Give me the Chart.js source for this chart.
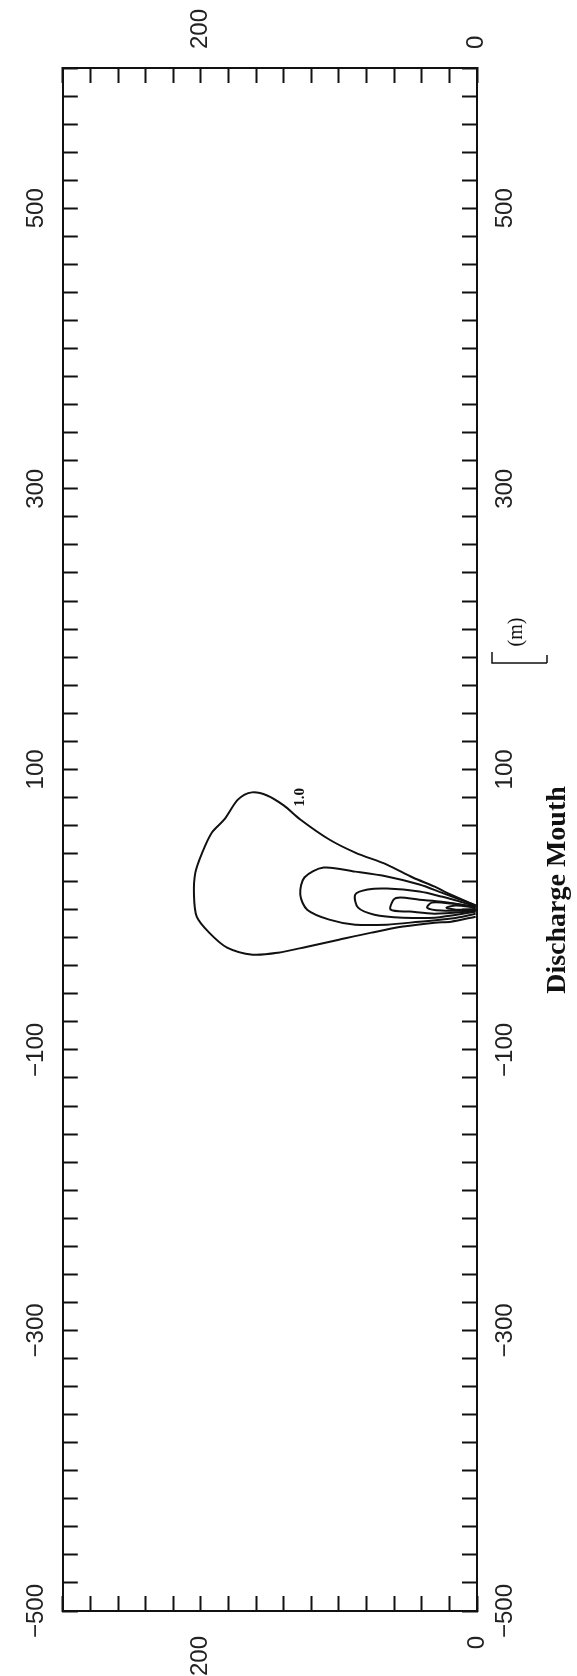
<!DOCTYPE html>
<html>
<head>
<meta charset="utf-8">
<script src="https://cdn.jsdelivr.net/npm/chart.js@4"></script>
<style>
  html, body { margin: 0; padding: 0; background: #fff; }
  #wrap { width: 577px; height: 1676px; position: relative; }
</style>
</head>
<body>
<div id="wrap"><canvas id="plumeChart"></canvas></div>
<script>
// lateral distance from the bank (m) runs across the page, 0 at the right edge
const lateralRange = [0, 300];
const lateralLabels = [0, 200];
// distance along the bank (m) runs up the page
const alongRange = [-500, 600];
const alongLabels = [-500, -300, -100, 100, 300, 500];

// contour lines, [lateral, along] pairs, all leaving from the discharge mouth
const contour10 = [
  [1, 3], [23.6, 12.9], [30.6, 16.4], [46.5, 22.9], [65.3, 32.1], [88.2, 40.7],
  [107, 50], [128, 64.3], [140, 74.3], [152, 81.4], [163, 83.6], [173, 78.6],
  [183, 64.3], [192, 55], [199, 40.7], [204, 26.4], [205, 10.7], [203, -5],
  [194, -16.4], [181, -27.1], [162.5, -32.1], [144, -30.7], [123, -26.4],
  [100, -21.4], [76.4, -16.4], [53.5, -12.1], [30.6, -9.3], [18.75, -8.6], [1, -5]
];
const contour2 = [
  [1, 3], [25.7, 12.1], [41.7, 17.9], [65.3, 23.6], [88.2, 27.1], [111, 30],
  [125, 22.9], [128, 10.7], [123, 0], [107, -7.1], [88.2, -10.7], [65.3, -10.7],
  [41.7, -8.6], [18.75, -6.4], [1, -3]
];
const contour3 = [
  [1, 2.5], [25.7, 9.3], [41.7, 12.9], [65.3, 15], [79.2, 14.3], [88.2, 10.7],
  [86.1, 1.4], [74.3, -3.6], [53.5, -5.7], [30.6, -5.7], [1, -1.5]
];
const contour4 = [
  [1, 2], [25.7, 5.7], [41.7, 7.1], [55.6, 8.6], [60.4, 7.1], [62.5, 0],
  [48.6, -1.4], [30.6, -2.9], [1, -1]
];
const contour5 = [
  [1, 1.8], [18.75, 4.3], [32.6, 5], [36.1, 1.4], [25.7, -0.7], [1, -0.5]
];
const contour6 = [
  [1, 1.4], [15.3, 2.9], [22.2, 1.4], [15.3, 0], [1, 0.2]
];
const contourSets = [contour10, contour2, contour3, contour4, contour5, contour6];

// label of the outer contour and the mouth marker, in data units
const contourLabel = { text: "1.0", lateral: 128, along: 80 };
const mouthLabel = { text: "Discharge Mouth", along: 14 };
const unitLabel = "(m)";

function toPoints(pairs) {
  return pairs.map(([x, y]) => ({ x: x, y: y }));
}

function minus(v) {
  return v < 0 ? "\u2212" + Math.abs(v) : String(v);
}

const tickFont = { family: "'Liberation Sans', Arial, sans-serif", size: 24 };

function alongAxis(position, padding) {
  return {
    type: "linear",
    position: position,
    min: alongRange[0],
    max: alongRange[1],
    grid: {
      drawOnChartArea: false,
      drawTicks: true,
      tickLength: -15,
      tickWidth: 2,
      tickColor: "#111",
    },
    border: { display: true, color: "#111", width: 2 },
    ticks: {
      stepSize: 20,
      autoSkip: false,
      minRotation: 90,
      maxRotation: 90,
      crossAlign: "center",
      padding: padding,
      color: "#222",
      font: tickFont,
      callback: (v) => (alongLabels.includes(v) ? minus(v) : ""),
    },
    afterFit: (scale) => {
      scale.width = position === "left" ? 45 : 100;
    },
  };
}

function lateralAxis(position, padding, offset) {
  return {
    type: "linear",
    position: position,
    reverse: true,
    min: lateralRange[0],
    max: lateralRange[1],
    grid: {
      drawOnChartArea: false,
      drawTicks: true,
      tickLength: -15,
      tickWidth: 2,
      tickColor: "#111",
    },
    border: { display: true, color: "#111", width: 2 },
    ticks: {
      stepSize: 20,
      autoSkip: false,
      minRotation: 90,
      maxRotation: 90,
      padding: padding,
      labelOffset: offset,
      color: "#222",
      font: tickFont,
      callback: (v) => (lateralLabels.includes(v) ? String(v) : ""),
    },
    afterFit: (scale) => {
      scale.height = position === "top" ? 68 : 65;
    },
  };
}

const notesPlugin = {
  id: "plumeNotes",
  afterDraw(chart) {
    const { ctx } = chart;
    const xs = chart.scales.x;
    const ys = chart.scales.y;
    ctx.save();
    ctx.fillStyle = "#111";
    ctx.strokeStyle = "#111";

    // contour value
    ctx.save();
    ctx.translate(xs.getPixelForValue(contourLabel.lateral), ys.getPixelForValue(contourLabel.along));
    ctx.rotate(-Math.PI / 2);
    ctx.font = "bold 15px 'Liberation Serif', serif";
    ctx.textAlign = "center";
    ctx.textBaseline = "middle";
    ctx.fillText(contourLabel.text, 0, 0);
    ctx.restore();

    // discharge mouth
    ctx.save();
    ctx.translate(558, ys.getPixelForValue(mouthLabel.along));
    ctx.rotate(-Math.PI / 2);
    ctx.font = "bold 28px 'Liberation Serif', serif";
    ctx.textAlign = "center";
    ctx.textBaseline = "middle";
    ctx.fillText(mouthLabel.text, 0, 0);
    ctx.restore();

    // unit marker with its little scale bar
    ctx.save();
    ctx.translate(517, 632);
    ctx.rotate(-Math.PI / 2);
    ctx.font = "20px 'Liberation Serif', serif";
    ctx.textAlign = "center";
    ctx.textBaseline = "middle";
    ctx.fillText(unitLabel, 0, 0);
    ctx.restore();
    ctx.lineWidth = 1.5;
    ctx.beginPath();
    ctx.moveTo(492, 652);
    ctx.lineTo(492, 663);
    ctx.lineTo(547, 663);
    ctx.moveTo(547, 655);
    ctx.lineTo(547, 663);
    ctx.stroke();

    ctx.restore();
  },
};

const ctx = document.getElementById("plumeChart").getContext("2d");
window.plumeChart = new Chart(ctx, {
  type: "scatter",
  data: {
    datasets: contourSets.map((c, i) => ({
      label: "contour " + i,
      data: toPoints(c),
      showLine: true,
      tension: 0.3,
      borderColor: "#111",
      borderWidth: 2,
      pointRadius: 0,
      fill: false,
    })),
  },
  options: {
    responsive: true,
    maintainAspectRatio: false,
    animation: false,
    layout: { padding: 0 },
    plugins: {
      legend: { display: false },
      tooltip: { enabled: false },
    },
    scales: {
      x: lateralAxis("bottom", 40, 0),
      x2: lateralAxis("top", 34, 28),
      y: alongAxis("left", 14),
      y2: alongAxis("right", 16),
    },
  },
  plugins: [notesPlugin],
});
</script>
</body>
</html>
